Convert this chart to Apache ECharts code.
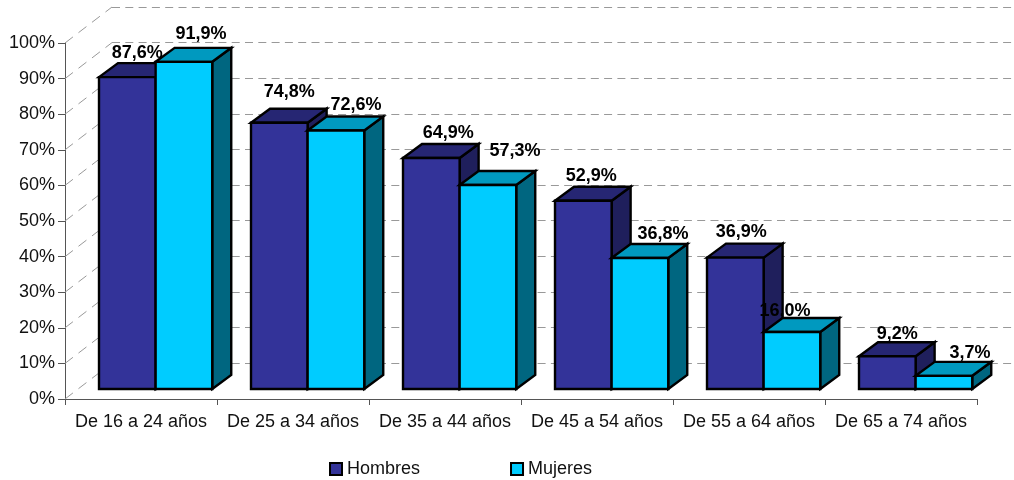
<!DOCTYPE html>
<html>
<head>
<meta charset="utf-8">
<style>html,body{margin:0;padding:0;background:#fff}#c{width:1014px;height:480px}</style>
<script src="https://cdn.jsdelivr.net/npm/echarts@6/dist/echarts.min.js"></script>
</head>
<body>
<div id="c"></div>
<script>
const categories = ['De 16 a 24 años','De 25 a 34 años','De 35 a 44 años','De 45 a 54 años','De 55 a 64 años','De 65 a 74 años'];
const hombres = [87.6,74.8,64.9,52.9,36.9,9.2];
const mujeres = [91.9,72.6,57.3,36.8,16.0,3.7];
const tickValues = [0,10,20,30,40,50,60,70,80,90,100];
// label nudges from the bar's centre-top, in pixels
const hombresNudge = [[10,-10],[10,-17],[17,-11],[8,-11],[6,-12],[10,-8]];
const mujeresNudge = [[17,-14],[20,-12],[27,-20],[23,-10],[-7,-7],[26,-9]];

const FONT = '"Liberation Sans", Arial, sans-serif';
const WALL = {dx:47, dy:-36};       // depth of the back wall
const BASE = {dx:0, dy:-10};        // bars stand in front of the floor edge
const DEPTH = {dx:19, dy:-14};      // depth of each bar

function fmt(v){ return v.toFixed(1).replace('.',',') + '%'; }

function barSeries(name, values, front, top, side, slot){
  return {
    name, type:'custom', coordinateSystem:'cartesian2d', xAxisIndex:0, yAxisIndex:0,
    clip:false, z:3 + slot,
    itemStyle:{color:front},
    data: values.map((v,i)=>[i,v]),
    encode:{x:0,y:1},
    renderItem(params, api){
      const i = api.value(0), v = api.value(1);
      const band = api.size([1,0])[0];
      const c0 = api.coord([i,0]), c1 = api.coord([i,v]);
      const w = band*0.3725;
      const x0 = c0[0] - band*0.2763 + slot*w;
      const x1 = x0 + w;
      const yb = c0[1] + BASE.dy, yt = c1[1] + BASE.dy;
      const s = {stroke:'#000', lineWidth:2.4, lineJoin:'miter'};
      const poly = (pts,fill)=>({type:'polygon', shape:{points:pts}, style:Object.assign({fill},s)});
      return {type:'group', children:[
        poly([[x1,yb],[x1+DEPTH.dx,yb+DEPTH.dy],[x1+DEPTH.dx,yt+DEPTH.dy],[x1,yt]], side),
        poly([[x0,yt],[x0+DEPTH.dx,yt+DEPTH.dy],[x1+DEPTH.dx,yt+DEPTH.dy],[x1,yt]], top),
        poly([[x0,yb],[x1,yb],[x1,yt],[x0,yt]], front)
      ]};
    }
  };
}

function labelSeries(values, nudges, slot){
  return {
    type:'custom', coordinateSystem:'cartesian2d', xAxisIndex:0, yAxisIndex:0,
    clip:false, z:10, silent:true,
    data: values.map((v,i)=>[i,v]),
    encode:{x:0,y:1},
    renderItem(params, api){
      const i = api.value(0), v = api.value(1);
      const band = api.size([1,0])[0];
      const c0 = api.coord([i,0]), c1 = api.coord([i,v]);
      const w = band*0.3725;
      const cx = c0[0] - band*0.2763 + slot*w + w/2;
      const backTop = c1[1] + BASE.dy + DEPTH.dy;
      return {type:'text', style:{
        text: fmt(v), x: cx + nudges[i][0], y: backTop + nudges[i][1],
        align:'center', verticalAlign:'middle',
        font:'bold 18px '+FONT, fill:'#000'
      }};
    }
  };
}

const chart = echarts.init(document.getElementById('c'), null, {renderer:'canvas'});
chart.setOption({
  animation:false,
  backgroundColor:'#fff',
  grid:[
    {left:65, top:43, width:912, height:356},
    {left:112, top:7, width:912, height:356}
  ],
  xAxis:[
    {type:'category', gridIndex:0, data:categories, boundaryGap:true,
     axisLine:{show:true, lineStyle:{color:'#555', width:1}},
     axisTick:{show:true, length:6, alignWithLabel:false, lineStyle:{color:'#555'}},
     axisLabel:{color:'#111', fontFamily:FONT, fontSize:18, margin:14, interval:0},
     splitLine:{show:false}},
    {type:'category', gridIndex:1, data:categories, show:false}
  ],
  yAxis:[
    {type:'value', gridIndex:0, min:0, max:100, interval:10,
     axisLine:{show:true, lineStyle:{color:'#555', width:1}},
     axisTick:{show:true, length:7, lineStyle:{color:'#555'}},
     axisLabel:{color:'#111', fontFamily:FONT, fontSize:18, margin:10, formatter:'{value}%'},
     splitLine:{show:false}},
    {type:'value', gridIndex:1, min:0, max:100, interval:10,
     axisLine:{show:false}, axisTick:{show:false}, axisLabel:{show:false},
     splitLine:{show:true, lineStyle:{color:'#999', width:1, type:[8,5.3]}}}
  ],
  legend:{
    left:329, top:460, padding:0, orient:'horizontal', icon:'rect',
    itemWidth:12, itemHeight:12, itemGap:90,
    data:['Hombres','Mujeres'],
    itemStyle:{borderColor:'#000', borderWidth:2},
    textStyle:{color:'#111', fontFamily:FONT, fontSize:18, padding:[0,0,0,0]},
    selectedMode:false
  },
  series:[
    {type:'custom', coordinateSystem:'cartesian2d', xAxisIndex:0, yAxisIndex:0, clip:false, z:1, silent:true,
     data: tickValues.map(v=>[0,v]), encode:{x:0,y:1},
     renderItem(params, api){
       const c = api.coord([0,api.value(1)]);
       const x = c[0]-api.size([1,0])[0]/2;
       return {type:'line', shape:{x1:x,y1:c[1],x2:x+WALL.dx,y2:c[1]+WALL.dy},
               style:{stroke:'#999', lineWidth:1, lineDash:[10,7]}};
     }},
    barSeries('Hombres', hombres, '#333399', '#262673', '#1f1f5c', 0),
    barSeries('Mujeres', mujeres, '#00CCFF', '#0099BF', '#006680', 1),
    labelSeries(hombres, hombresNudge, 0),
    labelSeries(mujeres, mujeresNudge, 1)
  ]
});
</script>
</body>
</html>
